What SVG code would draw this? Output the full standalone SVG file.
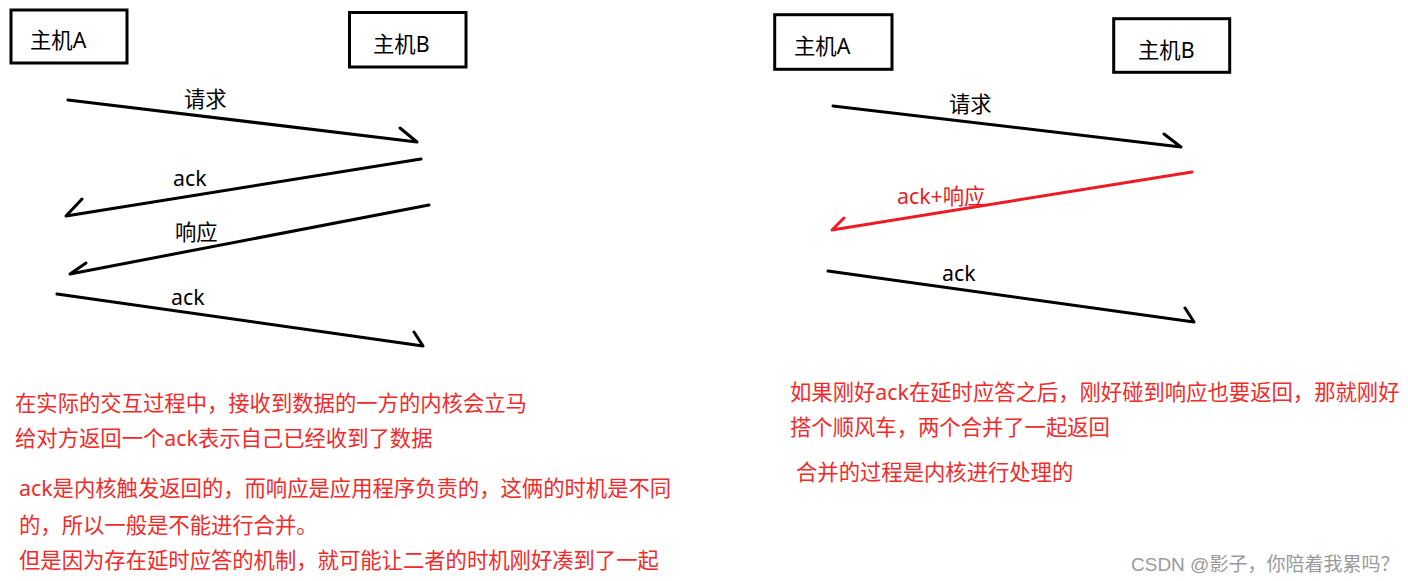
<svg xmlns="http://www.w3.org/2000/svg" width="1408" height="581" viewBox="0 0 1408 581">
<style>
.box{fill:#fff;stroke:#000;stroke-width:3}
.lbl{font-family:"Noto Sans","Noto Sans CJK SC",sans-serif;font-size:21.33px;fill:#000}
.arr{fill:none;stroke:#000;stroke-width:3;stroke-linecap:round;stroke-linejoin:round}
.red{stroke:#ed1c24}
.note{font-family:"Noto Sans","Noto Sans CJK SC",sans-serif;font-size:21.33px;fill:#f22a2a}
.wm{font-family:"Liberation Sans","Noto Sans CJK SC",sans-serif;font-size:19px;fill:#9a9a9a}
</style>
<rect width="1408" height="581" fill="#fff"/>
<g id="left-hostA"><rect class="box" x="11" y="10" width="116" height="53"/><text class="lbl" x="30" y="48">主机A</text></g>
<g id="left-hostB"><rect class="box" x="349.5" y="12.5" width="116.5" height="54.5"/><text class="lbl" x="373" y="52">主机B</text></g>
<g id="right-hostA"><rect class="box" x="774.7" y="14.7" width="117.3" height="54.6"/><text class="lbl" x="794" y="54">主机A</text></g>
<g id="right-hostB"><rect class="box" x="1113.7" y="18.7" width="116" height="53.6"/><text class="lbl" x="1138" y="58">主机B</text></g>
<g id="connectors">
<polyline class="arr" points="68,100 417,142 400,128"/>
<polyline class="arr" points="421,159 66,216 82,199"/>
<polyline class="arr" points="429,205 70,274 86,263"/>
<polyline class="arr" points="57,294 423,346 414,332"/>
<polyline class="arr" points="833,106 1181,147 1164,134"/>
<polyline class="arr red" points="1192,172 832,230 844,218"/>
<polyline class="arr" points="828,271 1194,322 1185,308"/>
</g>
<g id="labels">
<text class="lbl" x="184" y="107">请求</text>
<text class="lbl" x="173" y="186">ack</text>
<text class="lbl" x="175" y="240">响应</text>
<text class="lbl" x="171" y="305">ack</text>
<text class="lbl" x="949" y="112">请求</text>
<text class="lbl" x="897" y="204" fill="#ed1c24" style="fill:#ed1c24">ack+响应</text>
<text class="lbl" x="942" y="281">ack</text>
</g>
<g id="notes">
<text class="note" x="15" y="411">在实际的交互过程中，接收到数据的一方的内核会立马</text>
<text class="note" x="15" y="446">给对方返回一个ack表示自己已经收到了数据</text>
<text class="note" x="19" y="496">ack是内核触发返回的，而响应是应用程序负责的，这俩的时机是不同</text>
<text class="note" x="19" y="533">的，所以一般是不能进行合并。</text>
<text class="note" x="19" y="568">但是因为存在延时应答的机制，就可能让二者的时机刚好凑到了一起</text>
<text class="note" x="790" y="400">如果刚好ack在延时应答之后，刚好碰到响应也要返回，那就刚好</text>
<text class="note" x="790" y="435">搭个顺风车，两个合并了一起返回</text>
<text class="note" x="796" y="480">合并的过程是内核进行处理的</text>
</g>
<text class="wm" x="1131" y="571">CSDN @影子，你陪着我累吗？</text>
</svg>
